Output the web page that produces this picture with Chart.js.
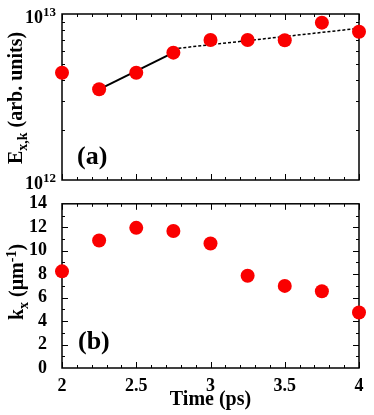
<!DOCTYPE html>
<html>
<head>
<meta charset="utf-8">
<script src="https://cdn.jsdelivr.net/npm/chart.js@4"></script>
<style>
  body { margin: 0; background: #fff; }
  #wrap { position: relative; width: 374px; height: 415px; font-family: 'Liberation Serif', serif; font-weight: bold; color: #000; }
  .pane { position: absolute; left: 0; width: 374px; }
  .rot { position: absolute; transform: translate(-50%, -50%) rotate(-90deg); white-space: nowrap; font-size: 20px; }
  .tag { position: absolute; font-size: 26px; }
  sub, sup { font-size: 14px; }
</style>
</head>
<body>
<div id="wrap">
  <div class="pane" style="top:0;height:197px"><canvas id="top" width="374" height="197"></canvas></div>
  <div class="pane" style="top:186px;height:229px"><canvas id="bottom" width="374" height="229"></canvas></div>
  <div class="rot" style="left:17px;top:98px">E<sub>x,k</sub> (arb. units)</div>
  <div class="rot" style="left:18px;top:282px">k<sub>x</sub> (&mu;m<sup>-1</sup>)</div>
  <div class="tag" style="left:77px;top:141px">(a)</div>
  <div class="tag" style="left:78px;top:326px">(b)</div>
</div>
<script>
// measured values
let times = [2, 2.25, 2.5, 2.75, 3, 3.25, 3.5, 3.75, 4];
let fieldE = [4.43e12, 3.52e12, 4.43e12, 5.85e12, 6.97e12, 6.97e12, 6.95e12, 8.87e12, 7.82e12];
let waveK = [8.24, 10.87, 11.95, 11.68, 10.62, 7.87, 7.0, 6.55, 4.73];

// fitted lines in panel (a)
let fitSolidX = [2.25, 2.75];
let fitSolidE = [3.52e12, 5.85e12];
let fitDashX = [2.75, 4];
let fitDashE = [6.17e12, 8.2e12];

// axis ticks
let eTickLabels = [1e12, 1e13];
let eMinorTicks = [2e12, 3e12, 4e12, 5e12, 6e12, 7e12, 8e12, 9e12];

let serif = 'Liberation Serif';
let red = 'rgb(250,0,0)';

// build point lists
function toPoints(xs, ys) {
    let out = [];
    for (let i = 0; i < xs.length; i++) {
        out.push({ x: xs[i], y: ys[i] });
    }
    return out;
}

// frame + inward ticks, drawn before the dots so the dots sit on top
let framePlugin = {
    id: 'frame',
    beforeDatasetsDraw(chart, args, opts) {
        let ctx = chart.ctx;
        let a = chart.chartArea;
        let xs = chart.scales.x, ys = chart.scales.y;
        ctx.save();
        ctx.strokeStyle = '#000';
        ctx.lineWidth = 1.5;
        ctx.strokeRect(a.left, a.top, a.right - a.left, a.bottom - a.top);
        ctx.lineWidth = 1;
        ctx.beginPath();
        // x ticks every 0.1, longer every 0.5
        for (let v = 2; v <= 4.001; v += 0.1) {
            let px = Math.round(xs.getPixelForValue(v)) + 0.5;
            let major = Math.abs(v * 2 - Math.round(v * 2)) < 1e-6;
            let len = major ? 6 : 3;
            ctx.moveTo(px, a.bottom); ctx.lineTo(px, a.bottom - len);
            ctx.moveTo(px, a.top); ctx.lineTo(px, a.top + len);
        }
        opts.yTicks.forEach(t => {
            let py = Math.round(ys.getPixelForValue(t.v)) + 0.5;
            ctx.moveTo(a.left, py); ctx.lineTo(a.left + t.len, py);
            ctx.moveTo(a.right, py); ctx.lineTo(a.right - t.len, py);
        });
        ctx.stroke();
        ctx.restore();
    }
};

// 10^n labels for the log axis
let powerLabels = {
    id: 'powerLabels',
    afterDraw(chart, args, opts) {
        if (!opts.values) return;
        let ctx = chart.ctx;
        let ys = chart.scales.y;
        ctx.save();
        ctx.fillStyle = '#000';
        ctx.textBaseline = 'middle';
        opts.values.forEach(v => {
            let py = ys.getPixelForValue(v);
            ctx.font = 'bold 18px ' + serif;
            ctx.textAlign = 'right';
            ctx.fillText('10', 43, py + 4);
            ctx.font = 'bold 13px ' + serif;
            ctx.textAlign = 'left';
            ctx.fillText(String(Math.round(Math.log10(v))), 43, py - 1);
        });
        ctx.restore();
    }
};

let topChart = new Chart(document.querySelector('#top'), {
    type: 'scatter',
    data: {
        datasets: [{
            data: toPoints(times, fieldE),
            pointRadius: 7,
            pointHoverRadius: 7,
            backgroundColor: red,
            borderWidth: 0,
            clip: false,
            order: 0
        }, {
            data: toPoints(fitSolidX, fitSolidE),
            showLine: true,
            borderColor: '#000',
            borderWidth: 2,
            pointRadius: 0,
            order: 1
        }, {
            data: toPoints(fitDashX, fitDashE),
            showLine: true,
            borderColor: '#000',
            borderWidth: 1.5,
            borderDash: [3, 2],
            pointRadius: 0,
            order: 1
        }]
    },
    options: {
        responsive: false,
        animation: false,
        layout: { padding: { top: 14, right: 15, left: 0, bottom: 0 } },
        plugins: {
            legend: { display: false },
            tooltip: { enabled: false },
            frame: { yTicks: eMinorTicks.map(v => ({ v: v, len: 3 })) },
            powerLabels: { values: eTickLabels }
        },
        scales: {
            x: {
                type: 'linear', min: 2, max: 4,
                grid: { display: false }, border: { display: false },
                ticks: { display: false },
                afterFit(s) { s.height = 17; }
            },
            y: {
                type: 'logarithmic', min: 1e12, max: 1e13,
                grid: { display: false }, border: { display: false },
                ticks: { display: false },
                afterFit(s) { s.width = 62; }
            }
        }
    },
    plugins: [framePlugin, powerLabels]
});

let kTicks = [];
for (let v = 1; v < 14; v++) {
    kTicks.push({ v: v, len: v % 2 == 0 ? 6 : 3 });
}

let bottomChart = new Chart(document.querySelector('#bottom'), {
    type: 'scatter',
    data: {
        datasets: [{
            data: toPoints(times, waveK),
            pointRadius: 7,
            pointHoverRadius: 7,
            backgroundColor: red,
            borderWidth: 0,
            clip: false
        }]
    },
    options: {
        responsive: false,
        animation: false,
        layout: { padding: { top: 16, right: 15, left: 0, bottom: 0 } },
        plugins: {
            legend: { display: false },
            tooltip: { enabled: false },
            frame: { yTicks: kTicks },
            powerLabels: {}
        },
        scales: {
            x: {
                type: 'linear', min: 2, max: 4,
                grid: { display: false }, border: { display: false },
                ticks: {
                    stepSize: 0.5, color: '#000', padding: 0,
                    font: { family: serif, size: 18, weight: 'bold' },
                    callback: v => String(v)
                },
                title: {
                    display: true, text: 'Time (ps)', color: '#000',
                    font: { family: serif, size: 20, weight: 'bold' },
                    padding: { top: 0, bottom: 3 }
                },
                afterFit(s) { s.height = 47; }
            },
            y: {
                type: 'linear', min: 0, max: 14,
                grid: { display: false }, border: { display: false },
                ticks: {
                    stepSize: 2, color: '#000', padding: 7, autoSkip: false,
                    font: { family: serif, size: 18, weight: 'bold' }
                },
                afterFit(s) { s.width = 62; }
            }
        }
    },
    plugins: [framePlugin, powerLabels]
});
</script>
</body>
</html>
